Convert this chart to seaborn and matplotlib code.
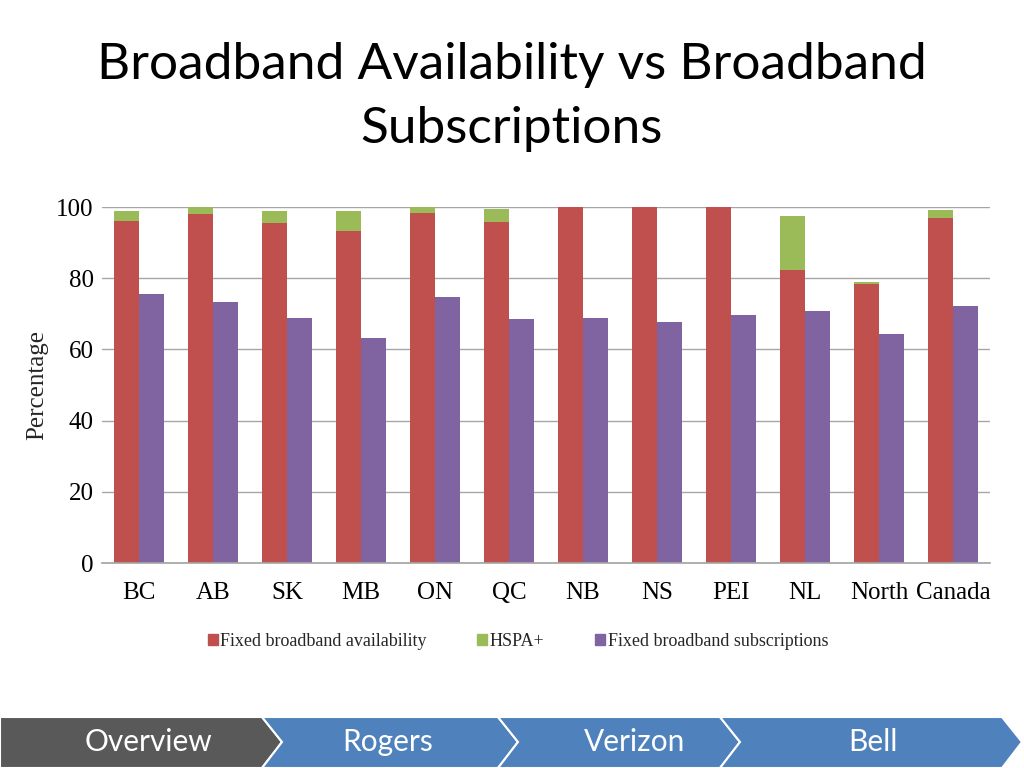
import numpy as np
import pandas as pd
import matplotlib
matplotlib.use("Agg")
import matplotlib.pyplot as plt
from matplotlib.patches import Polygon, Patch
import seaborn as sns

# values (percent)
regions = ["BC", "AB", "SK", "MB", "ON", "QC", "NB", "NS", "PEI", "NL", "North", "Canada"]
fixed_availability = [96.0, 97.9, 95.6, 93.3, 98.2, 95.9, 100.0, 100.0, 100.0, 82.4, 78.4, 96.8]
hspa_plus = [2.9, 2.1, 3.3, 5.6, 1.8, 3.6, 0.0, 0.0, 0.0, 15.2, 0.4, 2.4]
fixed_subscriptions = [75.7, 73.4, 68.9, 63.3, 74.8, 68.5, 68.9, 67.6, 69.8, 70.8, 64.2, 72.1]

nav_labels = ["Overview", "Rogers", "Verizon", "Bell"]

RED = "#C0504D"
GREEN = "#9BBB59"
PURPLE = "#8064A2"
W, H = 1024, 768

sns.set_theme(style="white")
plt.rcParams["font.family"] = ["Liberation Serif", "DejaVu Serif"]

avail_total = np.array(fixed_availability) + np.array(hspa_plus)

df_top = pd.DataFrame({
    "region": regions * 2,
    "series": ["avail"] * len(regions) + ["subs"] * len(regions),
    "value": list(avail_total) + fixed_subscriptions,
})
df_base = pd.DataFrame({
    "region": regions * 2,
    "series": ["avail"] * len(regions) + ["subs"] * len(regions),
    "value": fixed_availability + fixed_subscriptions,
})

fig = plt.figure(figsize=(W / 100, H / 100), dpi=100)
ax = fig.add_axes([102 / W, 1 - 563 / H, (990 - 102) / W, (563 - 207) / H])

# green HSPA+ cap sits behind the red availability bar
sns.barplot(data=df_top, x="region", y="value", hue="series", order=regions,
            hue_order=["avail", "subs"], palette=[GREEN, PURPLE], width=0.68,
            saturation=1, linewidth=0, legend=False, ax=ax)
sns.barplot(data=df_base, x="region", y="value", hue="series", order=regions,
            hue_order=["avail", "subs"], palette=[RED, PURPLE], width=0.68,
            saturation=1, linewidth=0, legend=False, ax=ax)

ax.set_ylim(0, 100)
ax.set_xlim(-0.5, len(regions) - 0.5)
ax.set_yticks(range(0, 101, 20))
ax.yaxis.grid(True, color="#A6A6A6", linewidth=1)
ax.set_axisbelow(True)
for side in ["left", "right", "top"]:
    ax.spines[side].set_visible(False)
ax.spines["bottom"].set_color("#A6A6A6")
ax.tick_params(axis="both", length=0, labelsize=18, colors="black")
ax.tick_params(axis="x", pad=14)
ax.tick_params(axis="y", pad=6)
ax.set_xlabel("")
ax.set_ylabel("Percentage", fontsize=18, labelpad=6)

handles = [Patch(color=RED, label="Fixed broadband availability"),
           Patch(color=GREEN, label="HSPA+"),
           Patch(color=PURPLE, label="Fixed broadband subscriptions")]
fig.legend(handles=handles, loc="center", bbox_to_anchor=(518 / W, 1 - 641 / H), ncol=3,
           frameon=False, fontsize=13, handlelength=0.55, handleheight=0.55,
           handletextpad=0.15, columnspacing=2.8)

fig.text(0.5, 1 - 97 / H, "Broadband Availability vs Broadband\nSubscriptions",
         ha="center", va="center", fontsize=37, family=["Lato", "DejaVu Sans"],
         linespacing=1.5, color="black")

# navigation chevrons along the bottom
def px(points):
    return [(x / W, 1 - y / H) for x, y in points]

shapes = [
    [(0, 717), (262, 717), (282, 742), (262, 768), (0, 768)],
    [(262, 717), (498, 717), (518, 742), (498, 768), (262, 768), (282, 742)],
    [(498, 717), (720, 717), (740, 742), (720, 768), (498, 768), (518, 742)],
    [(720, 717), (1002, 717), (1022, 742), (1002, 768), (720, 768), (740, 742)],
]
fills = ["#595959", "#4F81BD", "#4F81BD", "#4F81BD"]
text_x = [148, 388, 635, 873]
for pts, fc, tx, lab in zip(shapes, fills, text_x, nav_labels):
    fig.patches.append(Polygon(px(pts), closed=True, facecolor=fc, edgecolor="white",
                               linewidth=1.5, transform=fig.transFigure))
    fig.text(tx / W, 1 - 742 / H, lab, ha="center", va="center", color="white",
             fontsize=21.5, family=["Lato", "DejaVu Sans"])

fig.savefig("out.png", dpi=100, facecolor="white")
